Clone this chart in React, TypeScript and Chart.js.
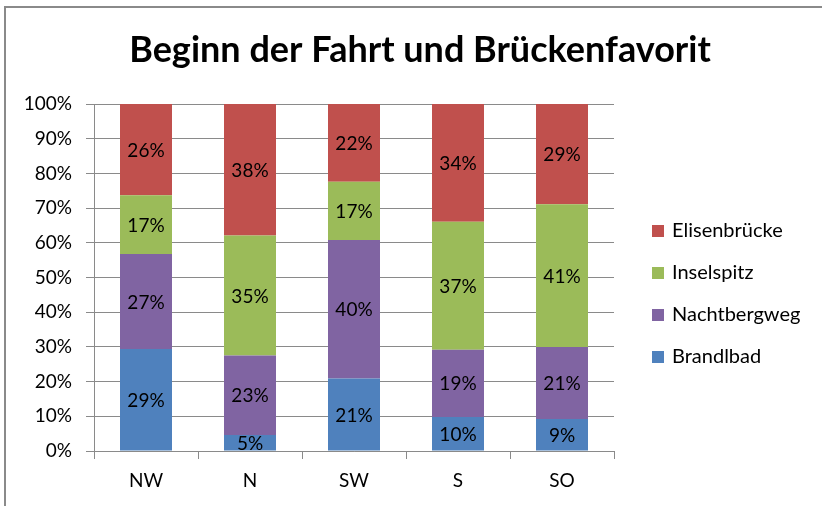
import React, { useEffect, useRef } from 'react';
import { Chart, registerables } from 'chart.js';

Chart.register(...registerables);

const categories = ['NW', 'N', 'SW', 'S', 'SO'];
const brandlbad = [29.4, 4.6, 20.9, 9.8, 9.2];
const nachtbergweg = [27.4, 22.9, 39.9, 19.4, 20.8];
const inselspitz = [16.9, 34.6, 16.8, 36.9, 41.1];
const elisenbruecke = [26.3, 37.9, 22.4, 33.9, 28.9];
const seriesNames = ['Brandlbad', 'Nachtbergweg', 'Inselspitz', 'Elisenbrücke'];
const seriesColors = ['#4F81BD', '#8064A2', '#9BBB59', '#C0504D'];
const titleText = 'Beginn der Fahrt und Brückenfavorit';
const yMax = 100;
const yStep = 10;

const FONT = 'Lato, "Open Sans", sans-serif';
const GRID = '#8a8a8a';

const segmentLabels = {
  id: 'segmentLabels',
  afterDatasetsDraw(chart: any) {
    const ctx = chart.ctx;
    ctx.save();
    ctx.font = `19px ${FONT}`;
    ctx.fillStyle = '#000';
    ctx.textAlign = 'center';
    ctx.textBaseline = 'middle';
    chart.data.datasets.forEach((ds: any, di: number) => {
      const meta = chart.getDatasetMeta(di);
      meta.data.forEach((el: any, i: number) => {
        const p = el.getProps(['x', 'y', 'base'], true);
        ctx.fillText(Math.round(ds.data[i]) + '%', p.x, (p.y + p.base) / 2 + 1);
      });
    });
    ctx.restore();
  },
};

const sideLegend = {
  id: 'sideLegend',
  afterDraw(chart: any) {
    const { ctx, chartArea } = chart;
    const ds = chart.data.datasets;
    ctx.save();
    ctx.font = `20px ${FONT}`;
    ctx.textBaseline = 'middle';
    ctx.textAlign = 'left';
    for (let k = 0; k < ds.length; k++) {
      const d = ds[ds.length - 1 - k];
      const cy = chartArea.top + 127 + k * 42;
      ctx.fillStyle = d.backgroundColor;
      ctx.fillRect(chartArea.right + 38, cy - 6, 12, 12);
      ctx.fillStyle = '#000';
      ctx.fillText(d.label, chartArea.right + 58, cy);
    }
    ctx.restore();
  },
};

export default function App() {
  const canvasRef = useRef<HTMLCanvasElement | null>(null);

  useEffect(() => {
    if (!canvasRef.current) return;
    const seriesData = [brandlbad, nachtbergweg, inselspitz, elisenbruecke];
    const chart = new Chart(canvasRef.current, {
      type: 'bar',
      data: {
        labels: categories,
        datasets: seriesNames.map((name, i) => ({
          label: name,
          data: seriesData[i],
          backgroundColor: seriesColors[i],
          borderWidth: 0,
          categoryPercentage: 0.5,
          barPercentage: 1,
        })),
      },
      options: {
        animation: false,
        responsive: true,
        maintainAspectRatio: false,
        layout: { padding: { left: 18, right: 0, top: 0, bottom: 0 } },
        plugins: {
          legend: { display: false },
          tooltip: { enabled: false },
          title: {
            display: true,
            text: titleText,
            color: '#000',
            font: { family: FONT, size: 36, weight: 'bold' },
            padding: { top: 29, bottom: 31.8 },
          },
        },
        scales: {
          x: {
            stacked: true,
            grid: {
              display: true,
              drawOnChartArea: false,
              drawTicks: true,
              tickLength: 8,
              color: GRID,
              offset: true,
            },
            border: { display: true, color: GRID, width: 1 },
            ticks: { color: '#000', font: { family: FONT, size: 19 }, padding: 10 },
            afterFit: (s: any) => { s.height = 55; },
          },
          y: {
            stacked: true,
            min: 0,
            max: yMax,
            grid: { color: GRID, tickLength: 8, drawTicks: true },
            border: { display: true, color: GRID, width: 1 },
            ticks: {
              stepSize: yStep,
              color: '#000',
              font: { family: FONT, size: 19 },
              padding: 14,
              callback: (v: any) => v + '%',
            },
            afterFit: (s: any) => { s.width = 76; },
          },
          legendSpace: {
            type: 'linear',
            position: 'right',
            display: true,
            grid: { display: false, drawTicks: false },
            border: { display: false },
            ticks: { display: false },
            afterFit: (s: any) => { s.width = 208; },
          },
        },
      } as any,
      plugins: [segmentLabels, sideLegend],
    });
    return () => chart.destroy();
  }, []);

  return (
    <div style={{ position: 'fixed', left: 0, top: 0, width: 822, height: 506, overflow: 'hidden', background: '#fff' }}>
      <div
        style={{
          position: 'absolute',
          left: 4,
          top: 6,
          width: 1000,
          height: 1000,
          borderTop: '2px solid #8a8a8a',
          borderLeft: '2px solid #8a8a8a',
        }}
      />
      <div style={{ position: 'absolute', left: 0, top: 0, width: 822, height: 506 }}>
        <canvas ref={canvasRef} />
      </div>
    </div>
  );
}
